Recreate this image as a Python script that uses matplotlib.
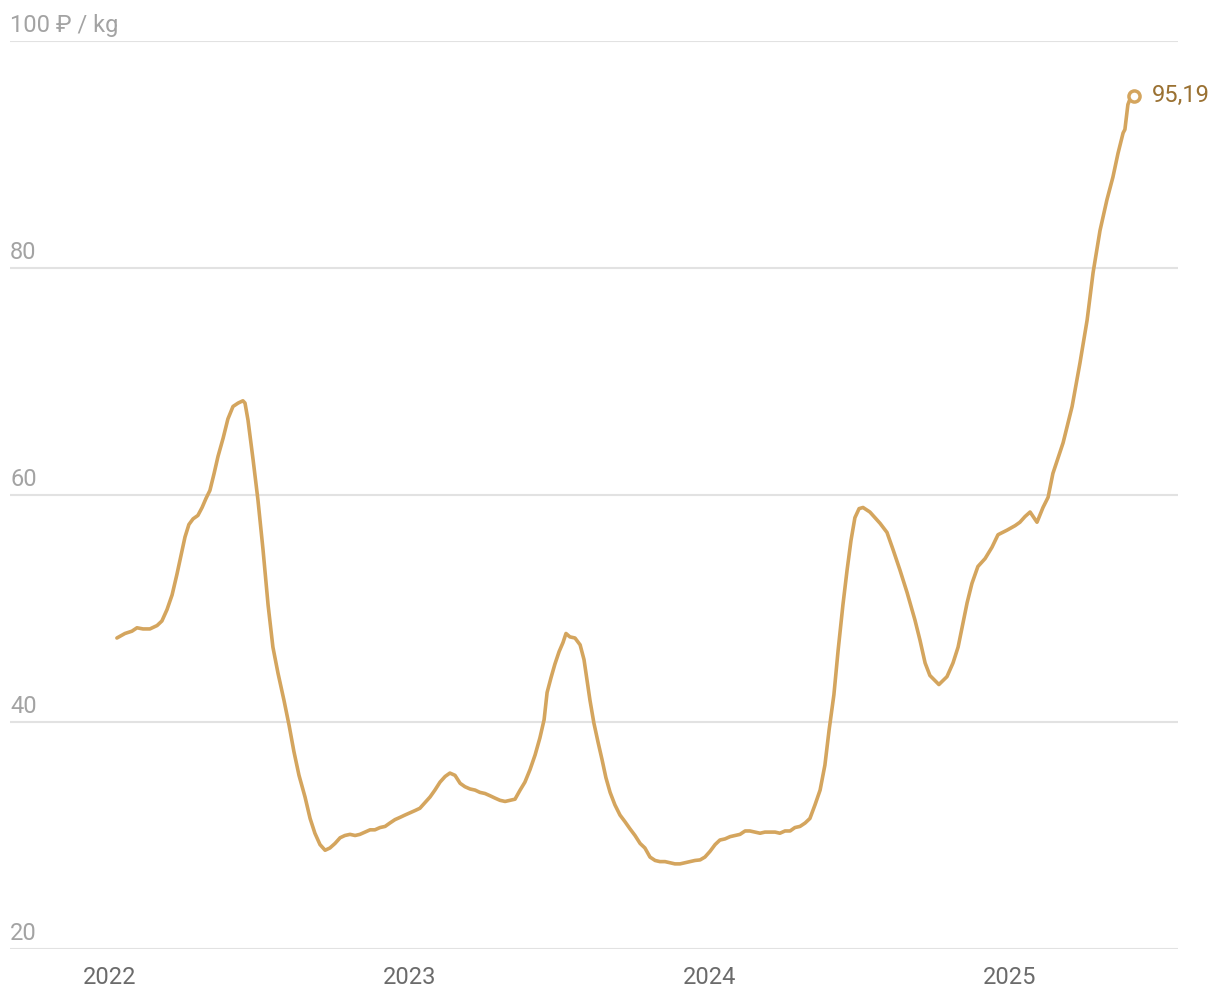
import matplotlib
matplotlib.use("Agg")
import matplotlib.pyplot as plt
import matplotlib.transforms as mtransforms

plt.rcParams['font.family'] = ['Roboto', 'DejaVu Sans']

# decimal year / price in rub per kg
t = [2022.023, 2022.050, 2022.073, 2022.090, 2022.110, 2022.133, 2022.157, 2022.173,
     2022.190, 2022.207, 2022.223, 2022.237, 2022.250, 2022.263, 2022.277, 2022.293,
     2022.307, 2022.320, 2022.333, 2022.347, 2022.360, 2022.377, 2022.393, 2022.410,
     2022.427, 2022.443, 2022.450, 2022.460, 2022.477, 2022.493, 2022.510, 2022.527,
     2022.543, 2022.560, 2022.580, 2022.597, 2022.613, 2022.630, 2022.650, 2022.667,
     2022.683, 2022.700, 2022.717, 2022.733, 2022.750, 2022.767, 2022.783, 2022.800,
     2022.817, 2022.833, 2022.850, 2022.867, 2022.883, 2022.900, 2022.917, 2022.933,
     2022.950, 2022.967, 2022.983, 2023.000, 2023.017, 2023.033, 2023.050, 2023.067,
     2023.083, 2023.100, 2023.117, 2023.133, 2023.150, 2023.167, 2023.183, 2023.200,
     2023.217, 2023.233, 2023.250, 2023.267, 2023.283, 2023.300, 2023.317, 2023.333,
     2023.350, 2023.367, 2023.383, 2023.400, 2023.417, 2023.433, 2023.447, 2023.457,
     2023.470, 2023.483, 2023.497, 2023.510, 2023.520, 2023.533, 2023.550, 2023.567,
     2023.580, 2023.590, 2023.600, 2023.613, 2023.627, 2023.640, 2023.653, 2023.667,
     2023.683, 2023.700, 2023.717, 2023.733, 2023.750, 2023.767, 2023.783, 2023.800,
     2023.817, 2023.833, 2023.850, 2023.867, 2023.883, 2023.900, 2023.917, 2023.933,
     2023.950, 2023.967, 2023.983, 2024.000, 2024.017, 2024.033, 2024.050, 2024.067,
     2024.083, 2024.100, 2024.117, 2024.133, 2024.150, 2024.167, 2024.183, 2024.200,
     2024.217, 2024.233, 2024.250, 2024.267, 2024.283, 2024.300, 2024.317, 2024.333,
     2024.350, 2024.367, 2024.383, 2024.397, 2024.413, 2024.427, 2024.443, 2024.457,
     2024.470, 2024.483, 2024.497, 2024.510, 2024.533, 2024.567, 2024.590, 2024.610,
     2024.633, 2024.657, 2024.683, 2024.700, 2024.717, 2024.733, 2024.763, 2024.790,
     2024.810, 2024.827, 2024.843, 2024.857, 2024.873, 2024.893, 2024.917, 2024.940,
     2024.960, 2024.990, 2025.017, 2025.033, 2025.050, 2025.067, 2025.090, 2025.110,
     2025.127, 2025.143, 2025.177, 2025.207, 2025.233, 2025.257, 2025.277, 2025.300,
     2025.323, 2025.343, 2025.360, 2025.377, 2025.383, 2025.393, 2025.403, 2025.413]
price = [47.4, 47.8, 48.0, 48.3, 48.2, 48.2, 48.5, 48.9,
         49.9, 51.2, 53.0, 54.7, 56.3, 57.4, 57.9, 58.2,
         58.9, 59.7, 60.4, 61.9, 63.4, 65.0, 66.7, 67.8,
         68.1, 68.3, 68.1, 66.6, 63.1, 59.6, 55.2, 50.3,
         46.6, 44.3, 41.9, 39.7, 37.4, 35.3, 33.4, 31.5,
         30.2, 29.2, 28.7, 28.9, 29.3, 29.8, 30.0, 30.1,
         30.0, 30.1, 30.3, 30.5, 30.5, 30.7, 30.8, 31.1,
         31.4, 31.6, 31.8, 32.0, 32.2, 32.4, 32.9, 33.4,
         34.0, 34.7, 35.2, 35.5, 35.3, 34.6, 34.3, 34.1,
         34.0, 33.8, 33.7, 33.5, 33.3, 33.1, 33.0, 33.1,
         33.2, 34.0, 34.7, 35.8, 37.1, 38.6, 40.2, 42.6,
         43.9, 45.1, 46.2, 47.0, 47.8, 47.5, 47.4, 46.8,
         45.5, 43.7, 41.9, 39.9, 38.2, 36.7, 35.1, 33.8,
         32.7, 31.8, 31.2, 30.6, 30.0, 29.3, 28.9, 28.1,
         27.8, 27.7, 27.7, 27.6, 27.5, 27.5, 27.6, 27.7,
         27.8, 27.85, 28.1, 28.6, 29.2, 29.6, 29.7, 29.9,
         30.0, 30.1, 30.4, 30.4, 30.3, 30.2, 30.3, 30.3,
         30.3, 30.2, 30.4, 30.4, 30.7, 30.8, 31.1, 31.5,
         32.7, 34.0, 36.2, 39.3, 42.4, 46.3, 50.3, 53.4,
         56.0, 58.0, 58.8, 58.9, 58.5, 57.5, 56.7, 55.2,
         53.4, 51.4, 49.0, 47.2, 45.2, 44.1, 43.3, 44.0,
         45.2, 46.6, 48.7, 50.5, 52.2, 53.7, 54.4, 55.4,
         56.5, 56.9, 57.3, 57.6, 58.1, 58.5, 57.6, 58.9,
         59.8, 61.9, 64.6, 67.8, 71.6, 75.4, 79.6, 83.3,
         86.0, 88.0, 90.1, 91.9, 92.2, 94.4, 95.1, 95.19]

years = [2022, 2023, 2024, 2025]
year_labels = ['2022', '2023', '2024', '2025']
y_levels = [20, 40, 60, 80, 100]
y_labels = ['20', '40', '60', '80', '100 ₽ / kg']
last_label = '95,19'

line_color = '#d4a55e'

fig = plt.figure(figsize=(12.2, 10), dpi=100)
ax = fig.add_axes([10 / 1220, 51 / 1000, 1168 / 1220, 908 / 1000])
ax.set_xlim(2022 - 100 / 300, 2022 + 1068 / 300)
ax.set_ylim(20, 100)

for s in ax.spines.values():
    s.set_visible(False)

ax.set_yticks(y_levels)
ax.set_yticklabels([])
ax.tick_params(axis='y', length=0)
ax.yaxis.grid(True, color='#e2e2e2', linewidth=1.5)
ax.set_axisbelow(True)

ax.set_xticks(years)
ax.set_xticklabels(year_labels, fontsize=17, color='#6b6b6b')
ax.tick_params(axis='x', length=0, pad=12)

label_tr = mtransforms.offset_copy(ax.get_yaxis_transform(), fig=fig, x=0, y=9, units='dots')
for v, lab in zip(y_levels, y_labels):
    ax.text(0, v, lab, transform=label_tr, ha='left', va='baseline', fontsize=17, color='#a3a3a3')

ax.plot(t, price, color=line_color, linewidth=2.6, solid_capstyle='round', solid_joinstyle='round')
ax.plot(t[-1], price[-1], 'o', markersize=8, markerfacecolor='white',
        markeredgecolor=line_color, markeredgewidth=2.5, zorder=5)

end_tr = mtransforms.offset_copy(ax.transData, fig=fig, x=18, y=0, units='dots')
ax.text(t[-1], price[-1], last_label, transform=end_tr, ha='left', va='center',
        fontsize=17, color='#9a7132')

fig.savefig('out.png', dpi=100)
